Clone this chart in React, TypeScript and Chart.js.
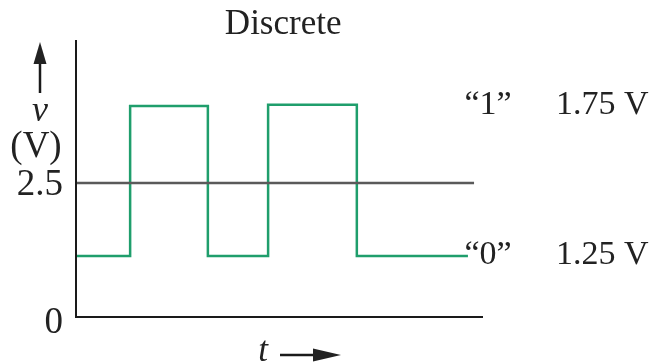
import React, { useEffect, useRef } from "react";
import { Chart, registerables } from "chart.js";

Chart.register(...registerables);

// Discrete signal: transition times (arbitrary t units) and level after each step
const stepTimes = [0, 13.3, 32.4, 47.2, 69.0, 96.3];
const stepLevels = [1.14, 3.94, 1.14, 3.96, 1.14, 1.14];
// Threshold reference line
const thresholdTimes = [0, 97.8];
const thresholdLevel = 2.5;
// Axis tick labels
const yTickValues = [0, 2.5];
const yTickLabels = ["0", "2.5"];
// Level annotations
const levelNames = ["\u201C1\u201D", "\u201C0\u201D"];
const levelVolts = ["1.75 V", "1.25 V"];
const levelAt = [3.94, 1.14];
const titleText = "Discrete";

const FONT = '"Liberation Serif", "Times New Roman", serif';

const overlay = {
  id: "overlay",
  afterDraw(chart: any) {
    const { ctx, chartArea, scales } = chart;
    const xs = scales.x;
    const ys = scales.y;
    const L = chartArea.left;
    const R = chartArea.right;
    const T = chartArea.top;
    const B = chartArea.bottom;
    ctx.save();
    // axes
    ctx.strokeStyle = "#1a1a1a";
    ctx.lineWidth = 2;
    ctx.beginPath();
    ctx.moveTo(L, T);
    ctx.lineTo(L, B);
    ctx.lineTo(R, B);
    ctx.stroke();

    ctx.fillStyle = "#222";
    ctx.textBaseline = "middle";
    // title
    ctx.font = `35px ${FONT}`;
    ctx.textAlign = "center";
    ctx.fillText(titleText, xs.getPixelForValue(50.9), 25);

    // y tick labels
    ctx.font = `37px ${FONT}`;
    ctx.textAlign = "right";
    yTickValues.forEach((v, i) => {
      const py = ys.getPixelForValue(v) + (v === 0 ? 6 : 2);
      ctx.fillText(yTickLabels[i], L - 13, py);
    });

    // y axis label
    ctx.textAlign = "center";
    ctx.font = `italic 36px ${FONT}`;
    ctx.fillText("v", 40, 112);
    ctx.font = `37px ${FONT}`;
    ctx.fillText("(V)", 36, 147);

    // up arrow
    ctx.strokeStyle = "#1a1a1a";
    ctx.lineWidth = 2.5;
    ctx.beginPath();
    ctx.moveTo(40, 60);
    ctx.lineTo(40, 93);
    ctx.stroke();
    ctx.beginPath();
    ctx.moveTo(40, 42);
    ctx.lineTo(46.5, 64);
    ctx.lineTo(33.5, 64);
    ctx.closePath();
    ctx.fill();

    // t label and arrow
    ctx.font = `italic 35px ${FONT}`;
    ctx.fillText("t", 263, 352);
    ctx.beginPath();
    ctx.moveTo(280, 355);
    ctx.lineTo(318, 355);
    ctx.stroke();
    ctx.beginPath();
    ctx.moveTo(341, 355);
    ctx.lineTo(313, 348.5);
    ctx.lineTo(313, 361.5);
    ctx.closePath();
    ctx.fill();

    // level annotations
    ctx.font = `34px ${FONT}`;
    levelNames.forEach((name, i) => {
      const py = ys.getPixelForValue(levelAt[i]) - 1;
      ctx.textAlign = "center";
      ctx.fillText(name, 488, py);
      ctx.textAlign = "left";
      ctx.fillText(levelVolts[i], 556, py);
    });
    ctx.restore();
  },
};

export default function App() {
  const ref = useRef<HTMLCanvasElement | null>(null);
  useEffect(() => {
    document.body.style.margin = "0";
    const canvas = ref.current;
    if (!canvas) return;
    const chart = new Chart(canvas, {
      type: "line",
      data: {
        datasets: [
          {
            label: "threshold",
            data: thresholdTimes.map((t) => ({ x: t, y: thresholdLevel })),
            borderColor: "#5a5a5a",
            borderWidth: 2.5,
            pointRadius: 0,
            fill: false,
          },
          {
            label: "signal",
            data: stepTimes.map((t, i) => ({ x: t, y: stepLevels[i] })),
            borderColor: "#1f9e6c",
            borderWidth: 2.5,
            pointRadius: 0,
            stepped: "before",
            fill: false,
          },
        ],
      },
      options: {
        animation: false,
        responsive: true,
        maintainAspectRatio: false,
        layout: { padding: { left: 76, right: 172, top: 40, bottom: 47 } },
        plugins: { legend: { display: false }, tooltip: { enabled: false }, title: { display: false } },
        scales: {
          x: { type: "linear", min: 0, max: 100, display: false },
          y: { type: "linear", min: 0, max: 5.17, display: false },
        },
      },
      plugins: [overlay],
    });
    return () => chart.destroy();
  }, []);
  return (
    <div style={{ position: "absolute", left: 0, top: 0, width: 655, height: 364, background: "#fff" }}>
      <canvas ref={ref} />
    </div>
  );
}
